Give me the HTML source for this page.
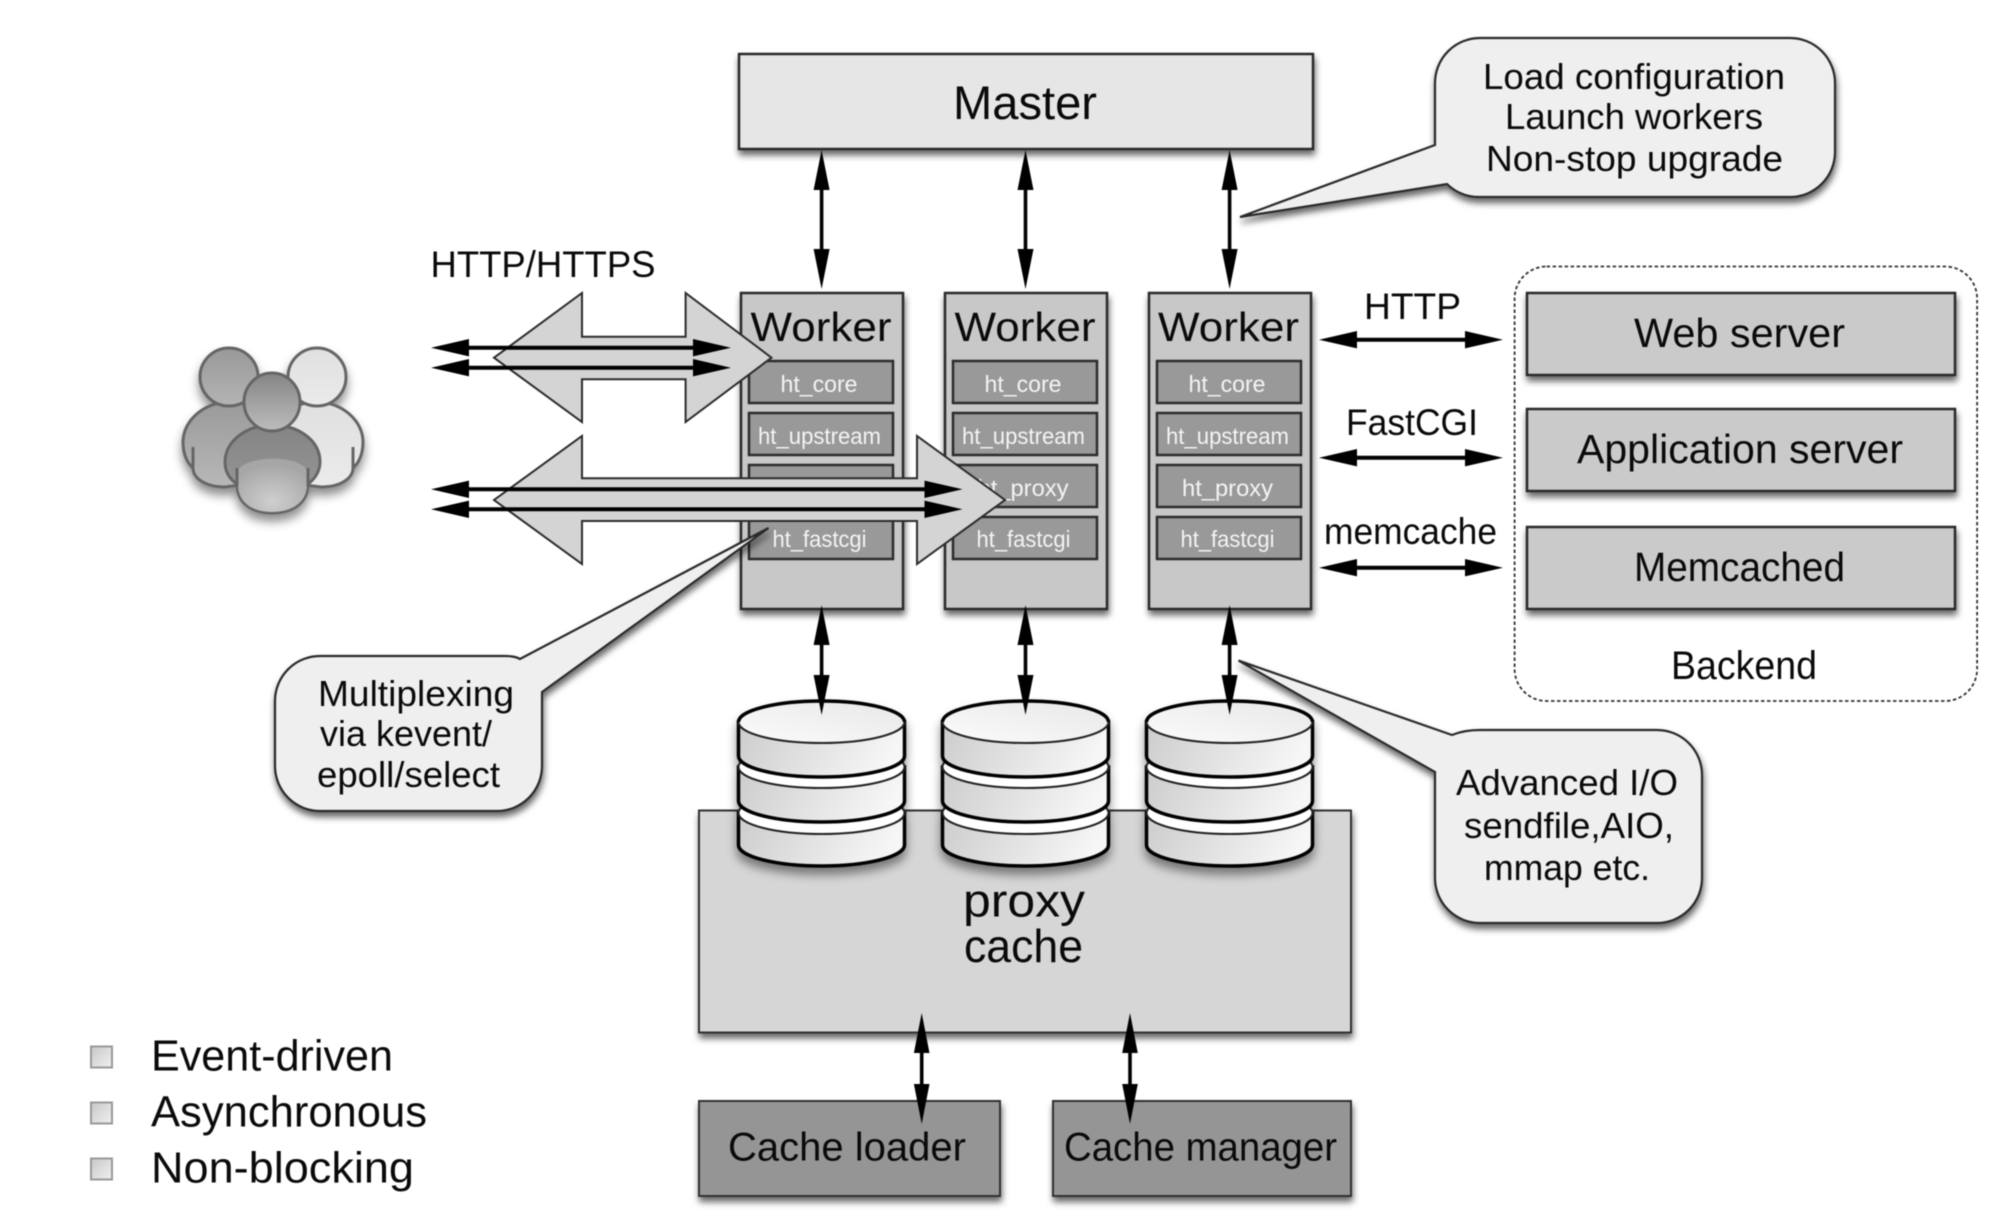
<!DOCTYPE html>
<html lang="en">
<head>
<meta charset="utf-8">
<title>Nginx architecture</title>
<style>
html,body{margin:0;padding:0;background:#fff;width:2010px;height:1210px;overflow:hidden}
svg{display:block;filter:blur(.6px)}
text{font-family:"Liberation Sans",sans-serif;fill:#0a0a0a;}
.w{fill:#f4f4f4}
.box{stroke:#2c2c2c;stroke-width:2.5}
</style>
</head>
<body>
<svg xmlns="http://www.w3.org/2000/svg" width="2010" height="1210" viewBox="0 0 2010 1210">
<defs>
<filter id="s" x="-10%" y="-10%" width="120%" height="125%"><feDropShadow dx="1" dy="5" stdDeviation="3.5" flood-color="#000" flood-opacity=".6"/></filter>
<filter id="sl" x="-20%" y="-20%" width="140%" height="150%"><feDropShadow dx="0" dy="7" stdDeviation="5" flood-color="#000" flood-opacity=".45"/></filter>
<linearGradient id="cg" x1="0" y1="0" x2="1" y2="0.2"><stop offset="0" stop-color="#cccccc"/><stop offset="1" stop-color="#f6f6f6"/></linearGradient>
<linearGradient id="ct" x1="0" y1="1" x2="1" y2="0"><stop offset="0" stop-color="#fbfbfb"/><stop offset="1" stop-color="#e8e8e8"/></linearGradient>
<linearGradient id="bu" x1="0" y1="0" x2="1" y2="1"><stop offset="0" stop-color="#c8c8c8"/><stop offset="1" stop-color="#f0f0f0"/></linearGradient>
<linearGradient id="pa" x1="0" y1="0" x2="0" y2="1"><stop offset="0" stop-color="#9a9a9a"/><stop offset="1" stop-color="#b8b8b8"/></linearGradient>
<linearGradient id="pah" x1="0" y1="0" x2="0" y2="1"><stop offset="0" stop-color="#999"/><stop offset="1" stop-color="#b4b4b4"/></linearGradient>
<linearGradient id="pb" x1="0" y1="0" x2="0" y2="1"><stop offset="0" stop-color="#e0e0e0"/><stop offset="1" stop-color="#ebebeb"/></linearGradient>
<linearGradient id="pc" x1="0" y1="0" x2="0" y2="1"><stop offset="0" stop-color="#848484"/><stop offset="1" stop-color="#9c9c9c"/></linearGradient>
<linearGradient id="pch" x1="0" y1="0" x2="0" y2="1"><stop offset="0" stop-color="#858585"/><stop offset="1" stop-color="#bdbdbd"/></linearGradient>
<radialGradient id="pl" cx=".5" cy=".8" r=".7"><stop offset="0" stop-color="#cfcfcf"/><stop offset="1" stop-color="#a6a6a6"/></radialGradient>
<g id="cyl">
<path d="M-83,813 V845 A83,21 0 0 0 83,845 V813 Z" fill="url(#cg)" stroke="#000" stroke-width="3.5"/>
<ellipse cx="0" cy="813" rx="83" ry="21" fill="#fff" stroke="#222" stroke-width="2"/>
<path d="M-83,767 V801 A83,21 0 0 0 83,801 V767 Z" fill="url(#cg)" stroke="#000" stroke-width="3.5"/>
<ellipse cx="0" cy="767" rx="83" ry="21" fill="#fff" stroke="#222" stroke-width="2"/>
<path d="M-83,722 V756 A83,21 0 0 0 83,756 V722 Z" fill="url(#cg)" stroke="#000" stroke-width="3.5"/>
<ellipse cx="0" cy="722" rx="83" ry="21" fill="url(#ct)" stroke="#222" stroke-width="2"/>
<path d="M-83,722 A83,21 0 0 1 83,722" fill="none" stroke="#000" stroke-width="3.5"/>
</g>
</defs>

<!-- Master -->
<rect class="box" x="739" y="54" width="574" height="95" fill="#e6e6e6" filter="url(#s)"/>
<text x="953" y="119" font-size="47" textLength="144" lengthAdjust="spacingAndGlyphs">Master</text>

<!-- callout top -->
<path d="M1480,38 H1790 A45,45 0 0 1 1835,83 V152 A45,45 0 0 1 1790,197 H1480 A45,45 0 0 1 1447,184 L1240,217 L1435,145 V83 A45,45 0 0 1 1480,38 Z" fill="#efefef" stroke="#2c2c2c" stroke-width="2.2" filter="url(#s)"/>
<text x="1483" y="89" font-size="36" textLength="302" lengthAdjust="spacingAndGlyphs">Load configuration</text>
<text x="1505" y="129" font-size="36" textLength="258" lengthAdjust="spacingAndGlyphs">Launch workers</text>
<text x="1486" y="171" font-size="36" textLength="297" lengthAdjust="spacingAndGlyphs">Non-stop upgrade</text>

<!-- HTTP/HTTPS label -->
<text x="430.5" y="277" font-size="37" textLength="225" lengthAdjust="spacingAndGlyphs">HTTP/HTTPS</text>

<!-- Proxy cache -->
<rect x="699" y="810.5" width="652" height="222" fill="#d6d6d6" stroke="#333" stroke-width="2" filter="url(#s)"/>
<text x="963" y="916.5" font-size="46" textLength="122" lengthAdjust="spacingAndGlyphs">proxy</text>
<text x="964" y="962" font-size="46" textLength="119" lengthAdjust="spacingAndGlyphs">cache</text>

<!-- Workers -->
<g>
<rect class="box" x="741" y="293" width="162" height="316" fill="#c8c8c8" filter="url(#s)"/>
<rect class="box" x="945" y="293" width="162" height="316" fill="#c8c8c8" filter="url(#s)"/>
<rect class="box" x="1149" y="293" width="162" height="316" fill="#c8c8c8" filter="url(#s)"/>
<g fill="#999" stroke="#2c2c2c" stroke-width="2.5">
<rect x="749" y="361" width="144" height="42"/><rect x="749" y="413" width="144" height="42"/><rect x="749" y="465" width="144" height="42"/><rect x="749" y="517" width="144" height="42"/>
<rect x="953" y="361" width="144" height="42"/><rect x="953" y="413" width="144" height="42"/><rect x="953" y="465" width="144" height="42"/><rect x="953" y="517" width="144" height="42"/>
<rect x="1157" y="361" width="144" height="42"/><rect x="1157" y="413" width="144" height="42"/><rect x="1157" y="465" width="144" height="42"/><rect x="1157" y="517" width="144" height="42"/>
</g>
<text x="750.5" y="341" font-size="41" textLength="141" lengthAdjust="spacingAndGlyphs">Worker</text>
<text x="954.5" y="341" font-size="41" textLength="141" lengthAdjust="spacingAndGlyphs">Worker</text>
<text x="1158" y="341" font-size="41" textLength="141" lengthAdjust="spacingAndGlyphs">Worker</text>

<text class="w" x="780.5" y="392" font-size="23" textLength="77" lengthAdjust="spacingAndGlyphs">ht_core</text>
<text class="w" x="758" y="444" font-size="23" textLength="123" lengthAdjust="spacingAndGlyphs">ht_upstream</text>
<text class="w" x="773.5" y="496" font-size="23" textLength="91" lengthAdjust="spacingAndGlyphs">ht_proxy</text>
<text class="w" x="772.5" y="547" font-size="23" textLength="94" lengthAdjust="spacingAndGlyphs">ht_fastcgi</text>

<text class="w" x="984.5" y="392" font-size="23" textLength="77" lengthAdjust="spacingAndGlyphs">ht_core</text>
<text class="w" x="962" y="444" font-size="23" textLength="123" lengthAdjust="spacingAndGlyphs">ht_upstream</text>
<text class="w" x="977.5" y="496" font-size="23" textLength="91" lengthAdjust="spacingAndGlyphs">ht_proxy</text>
<text class="w" x="976.5" y="547" font-size="23" textLength="94" lengthAdjust="spacingAndGlyphs">ht_fastcgi</text>

<text class="w" x="1188.5" y="392" font-size="23" textLength="77" lengthAdjust="spacingAndGlyphs">ht_core</text>
<text class="w" x="1166" y="444" font-size="23" textLength="123" lengthAdjust="spacingAndGlyphs">ht_upstream</text>
<text class="w" x="1182" y="496" font-size="23" textLength="91" lengthAdjust="spacingAndGlyphs">ht_proxy</text>
<text class="w" x="1180.5" y="547" font-size="23" textLength="94" lengthAdjust="spacingAndGlyphs">ht_fastcgi</text>
</g>

<!-- Big arrows -->
<polygon points="494,357.7 582,293 582,336.7 685.6,336.7 685.6,293 771.5,357.7 685.6,422 685.6,379.3 582,379.3 582,422" fill="#d4d4d4" stroke="#2c2c2c" stroke-width="2"/>
<polygon points="494,500 582,436 582,478.3 917,478.3 917,436 1005,500 917,564 917,521 582,521 582,564" fill="#d4d4d4" stroke="#2c2c2c" stroke-width="2"/>

<!-- small horizontal arrows -->
<g fill="#000">
<path d="M431,347.7 L469,339 V345.7 H693 V339 L731,347.7 L693,356.4 V349.7 H469 V356.4 Z"/>
<path d="M431,367.7 L469,359 V365.7 H693 V359 L731,367.7 L693,376.4 V369.7 H469 V376.4 Z"/>
<path d="M431,489.3 L469,480.6 V487.3 H924.5 V480.6 L962.5,489.3 L924.5,498 V491.3 H469 V498 Z"/>
<path d="M431,509.3 L469,500.6 V507.3 H924.5 V500.6 L962.5,509.3 L924.5,518 V511.3 H469 V518 Z"/>
<path d="M1319,339.7 L1357,331 V337.7 H1465 V331 L1503,339.7 L1465,348.4 V341.7 H1357 V348.4 Z"/>
<path d="M1319,457.7 L1357,449 V455.7 H1465 V449 L1503,457.7 L1465,466.4 V459.7 H1357 V466.4 Z"/>
<path d="M1319,567.7 L1357,559 V565.7 H1465 V559 L1503,567.7 L1465,576.4 V569.7 H1357 V576.4 Z"/>
</g>

<!-- Protocol labels -->
<text x="1364" y="319" font-size="37" textLength="97" lengthAdjust="spacingAndGlyphs">HTTP</text>
<text x="1346" y="435" font-size="37" textLength="132" lengthAdjust="spacingAndGlyphs">FastCGI</text>
<text x="1324" y="544" font-size="37" textLength="173" lengthAdjust="spacingAndGlyphs">memcache</text>

<!-- Backend -->
<rect x="1514.6" y="266.5" width="462.5" height="434.5" rx="32" fill="none" stroke="#333" stroke-width="1.8" stroke-dasharray="3.5 2.5"/>
<rect class="box" x="1527" y="293" width="428" height="82" fill="#cacaca" filter="url(#s)"/>
<rect class="box" x="1527" y="409" width="428" height="82" fill="#cacaca" filter="url(#s)"/>
<rect class="box" x="1527" y="527" width="428" height="82" fill="#cacaca" filter="url(#s)"/>
<text x="1634" y="347" font-size="41" textLength="211" lengthAdjust="spacingAndGlyphs">Web server</text>
<text x="1577" y="463" font-size="41" textLength="326" lengthAdjust="spacingAndGlyphs">Application server</text>
<text x="1634" y="581" font-size="41" textLength="211" lengthAdjust="spacingAndGlyphs">Memcached</text>
<text x="1671" y="679" font-size="40" textLength="146" lengthAdjust="spacingAndGlyphs">Backend</text>

<!-- Cylinders -->
<use href="#cyl" x="821.5" filter="url(#sl)"/>
<use href="#cyl" x="1025.5" filter="url(#sl)"/>
<use href="#cyl" x="1229.5" filter="url(#sl)"/>

<!-- vertical arrows -->
<g fill="#000">
<path d="M821.6,150 L829.6,190 H823.4 V249 H829.6 L821.6,289 L813.6,249 H819.8 V190 H813.6 Z"/>
<path d="M1025.5,150 L1033.5,190 H1027.3 V249 H1033.5 L1025.5,289 L1017.5,249 H1023.7 V190 H1017.5 Z"/>
<path d="M1229.6,150 L1237.6,190 H1231.4 V249 H1237.6 L1229.6,289 L1221.6,249 H1227.8 V190 H1221.6 Z"/>
<path d="M821.6,605 L829.6,645 H823.4 V675 H829.6 L821.6,715 L813.6,675 H819.8 V645 H813.6 Z"/>
<path d="M1025.5,605 L1033.5,645 H1027.3 V675 H1033.5 L1025.5,715 L1017.5,675 H1023.7 V645 H1017.5 Z"/>
<path d="M1229.6,605 L1237.6,645 H1231.4 V675 H1237.6 L1229.6,715 L1221.6,675 H1227.8 V645 H1221.6 Z"/>
</g>

<!-- callout advanced -->
<path d="M1480,730 H1657 A45,45 0 0 1 1702,775 V878 A45,45 0 0 1 1657,923 H1480 A45,45 0 0 1 1435,878 V772 L1238.5,660.6 L1452,735 Q1464,730 1480,730 Z" fill="#efefef" stroke="#2c2c2c" stroke-width="2.2" filter="url(#s)"/>
<text x="1456" y="795" font-size="36" textLength="222" lengthAdjust="spacingAndGlyphs">Advanced I/O</text>
<text x="1464" y="838" font-size="36" textLength="210" lengthAdjust="spacingAndGlyphs">sendfile,AIO,</text>
<text x="1484" y="880" font-size="36" textLength="166" lengthAdjust="spacingAndGlyphs">mmap etc.</text>

<!-- callout multiplex -->
<path d="M320,656 H505 Q515,656 520,659 L768.5,528 L542,692 V766 A45,45 0 0 1 497,811 H320 A45,45 0 0 1 275,766 V701 A45,45 0 0 1 320,656 Z" fill="#efefef" stroke="#2c2c2c" stroke-width="2.2" filter="url(#s)"/>
<text x="318" y="706" font-size="36" textLength="196" lengthAdjust="spacingAndGlyphs">Multiplexing</text>
<text x="320" y="746" font-size="36" textLength="172" lengthAdjust="spacingAndGlyphs">via kevent/</text>
<text x="317" y="787" font-size="36" textLength="183" lengthAdjust="spacingAndGlyphs">epoll/select</text>

<!-- Cache boxes -->
<rect x="699" y="1101" width="301" height="95" fill="#959595" stroke="#333" stroke-width="2" filter="url(#s)"/>
<rect x="1053" y="1101" width="298" height="95" fill="#959595" stroke="#333" stroke-width="2" filter="url(#s)"/>
<text x="728" y="1160.5" font-size="40" textLength="238" lengthAdjust="spacingAndGlyphs">Cache loader</text>
<text x="1064" y="1160.5" font-size="40" textLength="273" lengthAdjust="spacingAndGlyphs">Cache manager</text>
<g fill="#000">
<path d="M921.7,1013 L929.5,1053 H923.5 V1084 H929.5 L921.7,1124 L913.9,1084 H919.9 V1053 H913.9 Z"/>
<path d="M1130,1013 L1137.8,1053 H1131.8 V1084 H1137.8 L1130,1124 L1122.2,1084 H1128.2 V1053 H1122.2 Z"/>
</g>

<!-- People -->
<g filter="url(#sl)">
<g stroke="#666" stroke-width="3">
<path d="M353,468 C360,462 363,452 363,442 C363,420 341,402 317,402 C291,402 266,420 266,442 L266,480 L321,487 C341,487 353,478 353,468 Z" fill="url(#pb)"/>
<path d="M353,447 V468" fill="none"/>
<circle cx="317" cy="377" r="29" fill="url(#pb)"/>
<path d="M193,468 C186,462 183,452 183,442 C183,420 205,402 229,402 C255,402 280,420 280,442 L280,480 L225,487 C205,487 193,478 193,468 Z" fill="url(#pa)"/>
<path d="M193,447 V468" fill="none"/>
<circle cx="229" cy="377" r="29" fill="url(#pah)"/>
<path d="M237,484 C228,478 225,470 225,462 C225,440 248,425 272,425 C298,425 320,440 320,462 C320,470 316,478 308,484 C308,505 290,513 272,513 C254,513 237,505 237,484 Z" fill="url(#pc)"/>
</g>
<path d="M238,470 C248,455 298,455 307,470 V486 C306,504 290,512 272,512 C254,512 239,504 238,486 Z" fill="url(#pl)"/>
<path d="M237,468 V486 M308,468 V486" fill="none" stroke="#666" stroke-width="3"/>
<ellipse cx="272" cy="402" rx="28" ry="29" fill="url(#pch)" stroke="#666" stroke-width="3"/>
</g>

<!-- Bullets -->
<rect x="91" y="1046.5" width="21" height="21" fill="url(#bu)" stroke="#999" stroke-width="2"/>
<rect x="91" y="1102.5" width="21" height="21" fill="url(#bu)" stroke="#999" stroke-width="2"/>
<rect x="91" y="1158.5" width="21" height="21" fill="url(#bu)" stroke="#999" stroke-width="2"/>
<text x="151" y="1070.5" font-size="44" textLength="242" lengthAdjust="spacingAndGlyphs">Event-driven</text>
<text x="151" y="1126.5" font-size="44" textLength="276" lengthAdjust="spacingAndGlyphs">Asynchronous</text>
<text x="151" y="1182.5" font-size="44" textLength="263" lengthAdjust="spacingAndGlyphs">Non-blocking</text>
</svg>
</body>
</html>
